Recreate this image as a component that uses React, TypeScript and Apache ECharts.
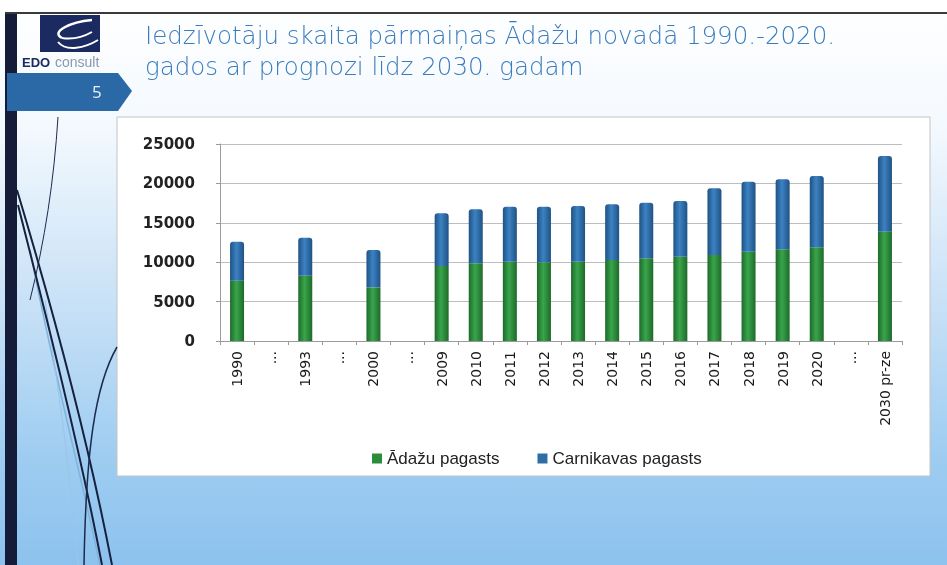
import React, { useEffect, useRef } from "react";
import * as echarts from "echarts";

const categories = ["1990", "...", "1993", "...", "2000", "...", "2009", "2010", "2011", "2012", "2013", "2014", "2015", "2016", "2017", "2018", "2019", "2020", "...", "2030 pr-ze"];
const adazi = [7650, "-", 8290, "-", 6810, "-", 9520, 9860, 10060, 10000, 10060, 10280, 10490, 10700, 10910, 11330, 11640, 11890, "-", 13870];
const carnikava = [4950, "-", 4820, "-", 4740, "-", 6680, 6850, 6990, 7050, 7070, 7070, 7060, 7070, 8470, 8890, 8880, 9050, "-", 9610];
const yTicks = { min: 0, max: 25000, interval: 5000 };
const seriesNames = ["Ādažu pagasts", "Carnikavas pagasts"];
const titleLines = ["Iedzīvotāju skaita pārmaiņas Ādažu novadā 1990.-2020.", "gados ar prognozi līdz 2030. gadam"];

const cyl = (dark: string, light: string) =>
  new echarts.graphic.LinearGradient(0, 0, 1, 0, [
    { offset: 0, color: dark },
    { offset: 0.45, color: light },
    { offset: 1, color: dark },
  ]);

export default function App() {
  const ref = useRef<HTMLDivElement>(null);
  useEffect(() => {
    if (!ref.current) return;
    const chart = echarts.init(ref.current, undefined, { renderer: "svg" });
    const curve = (x1: number, y1: number, c1x: number, c1y: number, c2x: number, c2y: number, x2: number, y2: number, stroke: string, w: number) => ({
      type: "bezierCurve",
      silent: true,
      shape: { x1, y1, cpx1: c1x, cpy1: c1y, cpx2: c2x, cpy2: c2y, x2, y2 },
      style: { stroke, lineWidth: w, fill: null },
    });
    chart.setOption({
      animation: false,
      graphic: [
        {
          type: "rect",
          z: -10,
          silent: true,
          shape: { x: 0, y: 0, width: 947, height: 565 },
          style: {
            fill: new echarts.graphic.LinearGradient(0, 0, 0, 1, [
              { offset: 0, color: "#ffffff" },
              { offset: 0.22, color: "#f4f9fe" },
              { offset: 0.55, color: "#c6e0f6" },
              { offset: 0.8, color: "#9fcdf1" },
              { offset: 1, color: "#8dc2ee" },
            ]),
          },
        },
        curve(58, 117, 54, 180, 45, 240, 30, 300, "#1c2a4e", 1),
        curve(30, 250, 55, 380, 80, 470, 100, 565, "#7fb2dc", 1.5),
        curve(45, 300, 60, 400, 70, 470, 78, 565, "#9cc5e8", 1),
        curve(17, 190, 50, 300, 88, 440, 112, 565, "#16213f", 2),
        curve(18, 205, 46, 315, 80, 450, 102, 565, "#16213f", 2),
        curve(117, 347, 95, 385, 86, 450, 84, 565, "#1c2a4e", 1.5),
        { type: "rect", z: -5, silent: true, shape: { x: 5, y: 12, width: 12, height: 553 }, style: { fill: "#141c3a" } },
        { type: "rect", z: -5, silent: true, shape: { x: 5, y: 12, width: 942, height: 2 }, style: { fill: "#3a3a3a" } },
        { type: "rect", z: -5, silent: true, shape: { x: 40, y: 15, width: 60, height: 37 }, style: { fill: "#1b2a60" } },
        curve(92, 20, 70, 22, 50, 32, 62, 38, "#ffffff", 2.5),
        curve(62, 38, 75, 40, 85, 36, 92, 32, "#ffffff", 2),
        curve(58, 42, 66, 52, 85, 48, 98, 40, "#ffffff", 2),
        { type: "text", silent: true, style: { x: 22, y: 56, text: "EDO", fill: "#1b2a60", font: "bold 13px 'Liberation Sans'" } },
        { type: "text", silent: true, style: { x: 55, y: 55, text: "consult", fill: "#8a98ad", font: "14px 'Liberation Sans'" } },
        { type: "polygon", silent: true, shape: { points: [[7, 73], [118, 73], [132, 91], [118, 111], [7, 111]] }, style: { fill: "#2a69a5" } },
        { type: "text", silent: true, style: { x: 92, y: 83, text: "5", fill: "#e8f0f8", font: "17px 'Open Sans'" } },
        {
          type: "text",
          silent: true,
          style: {
            x: 145,
            y: 20,
            text: titleLines.join("\n"),
            fill: "#3a7cbd",
            font: "200 24.5px 'DejaVu Sans'",
            lineHeight: 31,
            verticalAlign: "top",
          },
        },
        { type: "rect", z: -4, silent: true, shape: { x: 117, y: 117, width: 813, height: 359 }, style: { fill: "#ffffff", stroke: "#c4c4c4", lineWidth: 1 } },
      ],
      legend: {
        left: 367,
        top: 445,
        icon: "rect",
        itemWidth: 10,
        itemHeight: 10,
        itemGap: 38,
        textStyle: { fontFamily: "Liberation Sans", fontSize: 17, color: "#222" },
        data: [
          { name: seriesNames[0], itemStyle: { color: "#2b8c3c" } },
          { name: seriesNames[1], itemStyle: { color: "#2e6da6" } },
        ],
      },
      grid: { left: 220, right: 45, top: 144, bottom: 224 },
      xAxis: {
        type: "category",
        data: categories,
        axisLine: { lineStyle: { color: "#9a9a9a" } },
        axisTick: { show: true, lineStyle: { color: "#9a9a9a" }, length: 4 },
        axisLabel: {
          rotate: 90,
          interval: 0,
          margin: 10,
          fontFamily: "DejaVu Sans",
          fontSize: 14,
          color: "#1a1a1a",
        },
      },
      yAxis: {
        type: "value",
        min: yTicks.min,
        max: yTicks.max,
        interval: yTicks.interval,
        axisLine: { show: true, lineStyle: { color: "#9a9a9a" } },
        axisTick: { show: true, length: 4, lineStyle: { color: "#9a9a9a" } },
        splitLine: { lineStyle: { color: "#bdbdbd" } },
        axisLabel: {
          margin: 25,
          fontFamily: "DejaVu Sans",
          fontWeight: "bold",
          fontSize: 15,
          color: "#222",
          formatter: (v: number) => String(v),
        },
      },
      series: [
        {
          name: seriesNames[0],
          type: "bar",
          stack: "total",
          barWidth: 14,
          data: adazi,
          itemStyle: { color: cyl("#1d6a2a", "#39a54b") },
        },
        {
          name: seriesNames[1],
          type: "bar",
          stack: "total",
          barWidth: 14,
          data: carnikava,
          itemStyle: { color: cyl("#1f5284", "#3c82c2"), borderRadius: [3, 3, 0, 0] },
        },
      ],
    });
    return () => chart.dispose();
  }, []);
  return <div ref={ref} style={{ position: "fixed", left: 0, top: 0, width: 947, height: 565 }} />;
}
